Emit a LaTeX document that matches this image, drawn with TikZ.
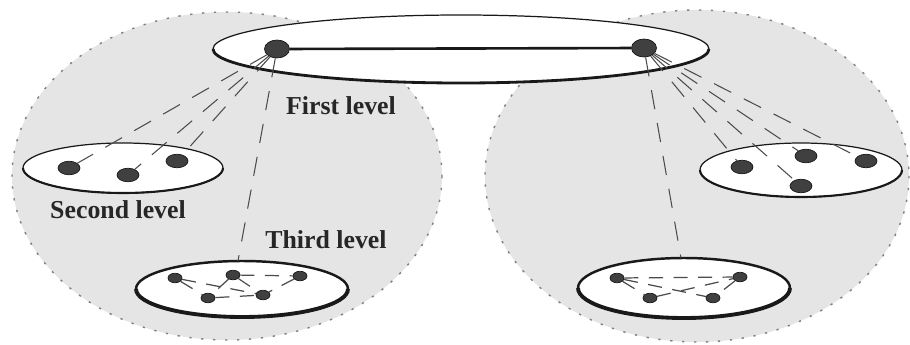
\documentclass[tikz,border=0pt]{standalone}
\usepackage{fontspec}
\setmainfont{Liberation Serif}
\usetikzlibrary{shapes.geometric}

\tikzset{
    cloud/.style={fill=black!10, draw=black!50, line width=0.8pt, dash pattern=on 1.3pt off 5.5pt},
    plate/.style={fill=white, draw=black!90, line width=0.7pt},
    rim/.style={draw=black!90, line width=1.6pt},
    hub/.style={ellipse, fill=black!75, draw=black!90, line width=0.4pt, inner sep=0pt, minimum width=0.5cm, minimum height=0.36cm},
    dot/.style={hub, minimum width=0.44cm, minimum height=0.27cm},
    smalldot/.style={hub, minimum width=0.28cm, minimum height=0.19cm},
    backbone/.style={draw=black!90, line width=1.5pt},
    ray/.style={draw=black!70, line width=0.6pt, dash pattern=on 11pt off 8pt},
    link/.style={draw=black!70, line width=0.7pt, dash pattern=on 8pt off 6pt},
    levellabel/.style={text=black!85, font=\bfseries\fontsize{14.7}{16}\selectfont}
}

\begin{document}
\begin{tikzpicture}[x=0.02cm, y=-0.02cm]
    \useasboundingbox (0,0) rectangle (910,345);

    % Draw the two gray clusters
    \filldraw[cloud] (227,176) ellipse [x radius=215, y radius=164];
    \filldraw[cloud] (697,176) ellipse [x radius=212, y radius=166];

    % Draw the first level plate (heavier lower edge)
    \filldraw[plate] (461,49) ellipse [x radius=248, y radius=34];
    \draw[rim] (213,49) arc [start angle=180, end angle=0, x radius=248, y radius=34];

    % Draw the second level plates
    \filldraw[plate] (123,168) ellipse [x radius=100, y radius=25];
    \draw[rim, line width=1.2pt] (23,168) arc [start angle=180, end angle=0, x radius=100, y radius=25];
    \filldraw[plate] (801,170) ellipse [x radius=101, y radius=27];
    \draw[rim, line width=1.2pt] (700,170) arc [start angle=180, end angle=0, x radius=101, y radius=27];

    % Draw the third level plates (thick border all round)
    \filldraw[plate, line width=1.4pt] (242,289) ellipse [x radius=106, y radius=28];
    \draw[rim, line width=2.2pt] (136,289) arc [start angle=180, end angle=0, x radius=106, y radius=28];
    \filldraw[plate, line width=1.4pt] (684,288) ellipse [x radius=106, y radius=30];
    \draw[rim, line width=2.2pt] (578,288) arc [start angle=180, end angle=0, x radius=106, y radius=30];

    % Where the long rays meet the third level plates
    \coordinate (topthirdl) at (238,261);
    \coordinate (topthirdr) at (681,258);

    % First level hubs
    \node[hub] (hubl) at (277,49) {};
    \node[hub] (hubr) at (644,48) {};
    \draw[backbone] (hubl) -- (hubr);

    % Second level nodes, left and right
    \node[dot] (sl1) at (69,168) {};
    \node[dot] (sl2) at (128,175) {};
    \node[dot] (sl3) at (177,161) {};
    \node[dot] (sr1) at (742,167) {};
    \node[dot] (sr2) at (806,156) {};
    \node[dot] (sr3) at (866,161) {};
    \node[dot] (sr4) at (801,186) {};

    % Third level nodes, left and right
    \node[smalldot] (tl1) at (175,278) {};
    \node[smalldot] (tl2) at (233,275) {};
    \node[smalldot] (tl3) at (300,276) {};
    \node[smalldot] (tl4) at (208,298) {};
    \node[smalldot] (tl5) at (263,295) {};
    \node[smalldot] (tr1) at (617,278) {};
    \node[smalldot] (tr2) at (740,277) {};
    \node[smalldot] (tr3) at (650,298) {};
    \node[smalldot] (tr4) at (713,298) {};

    % Rays from the hubs down to the lower levels
    \foreach \n in {sl1,sl2,sl3,topthirdl}
        \draw[ray] (hubl) -- (\n);
    \foreach \n in {sr1,sr2,sr3,sr4,topthirdr}
        \draw[ray] (hubr) -- (\n);

    % Links inside the third level plates
    \foreach \a/\b in {tl2/tl4, tl2/tl3, tl1/tl5, tl1/tl4, tl2/tl5, tl3/tl5, tl4/tl5}
        \draw[link] (\a) -- (\b);
    \foreach \a/\b in {tr1/tr2, tr1/tr3, tr1/tr4, tr3/tr2, tr2/tr4}
        \draw[link] (\a) -- (\b);

    % Level labels
    \node[levellabel] (first) at (341,106) {First level};
    \node[levellabel] (second) at (118,210) {Second level};
    \node[levellabel] (third) at (326,240) {Third level};

\end{tikzpicture}
\end{document}
